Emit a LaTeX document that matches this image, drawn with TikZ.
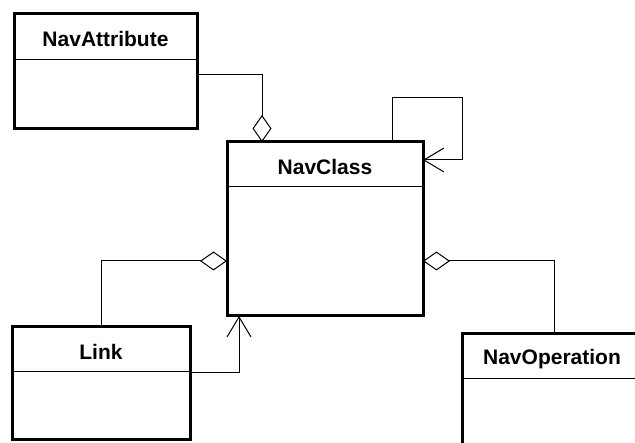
\documentclass[tikz,border=0pt]{standalone}
\usepackage{fontspec}
\setmainfont{Liberation Sans}
\usetikzlibrary{arrows.meta}
\tikzset{
  classbox/.style={draw=black, line width=3pt, fill=white, outer sep=0pt, inner sep=0pt, anchor=north west},
  classname/.style={font=\fontsize{21}{24}\selectfont\bfseries, inner sep=0pt},
  divider/.style={line width=1pt},
  link/.style={line width=1pt, line join=miter},
  agg/.style={link, -{Diamond[open, length=27pt, width=19pt, line width=1pt]}},
  assoc/.style={link, -{Straight Barb[length=20pt, width=24pt, line width=1pt]}}
}
\begin{document}
\begin{tikzpicture}[x=1pt, y=-1pt]
  \useasboundingbox (0,0) rectangle (635,443);
  \clip (0,0) rectangle (635,443);

  % class boxes
  \node[classbox, minimum width=183pt, minimum height=115pt] (attr) at (14,14) {};
  \node[classbox, minimum width=196pt, minimum height=174pt] (cls) at (227,142) {};
  \node[classbox, minimum width=178pt, minimum height=113pt] (lnk) at (12,327) {};
  \node[classbox, minimum width=190pt, minimum height=140pt] (op) at (462,334) {};

  % header separators
  \draw[divider] ([yshift=-46pt]attr.north west) -- ([yshift=-46pt]attr.north east);
  \draw[divider] ([yshift=-45pt]cls.north west) -- ([yshift=-45pt]cls.north east);
  \draw[divider] ([yshift=-45pt]lnk.north west) -- ([yshift=-45pt]lnk.north east);
  \draw[divider] ([yshift=-45pt]op.north west) -- ([yshift=-45pt]op.north east);

  % class names
  \node[classname] (attrname) at ([yshift=-25pt]attr.north) {NavAttribute};
  \node[classname] (clsname) at ([yshift=-25pt]cls.north) {NavClass};
  \node[classname] (lnkname) at ([yshift=-25pt]lnk.north) {Link};
  \node[classname] (opname) at ([xshift=90pt, yshift=-25pt]op.north west) {NavOperation};

  % aggregations
  \draw[agg] ([yshift=-3.5pt]attr.east) -| ([xshift=-63pt]cls.north);
  \draw[agg] (lnk.north) |- ([yshift=-32pt]cls.west);
  \draw[agg] ([xshift=92pt]op.north west) |- ([yshift=-32pt]cls.east);

  % associations
  \draw[assoc] ([yshift=10.5pt]lnk.east) -| ([xshift=-86pt]cls.south);
  \draw[assoc] ([xshift=67pt]cls.north) -- ++(0,-44) -- ++(70,0) |- ([yshift=-18pt]cls.north east);
\end{tikzpicture}
\end{document}
